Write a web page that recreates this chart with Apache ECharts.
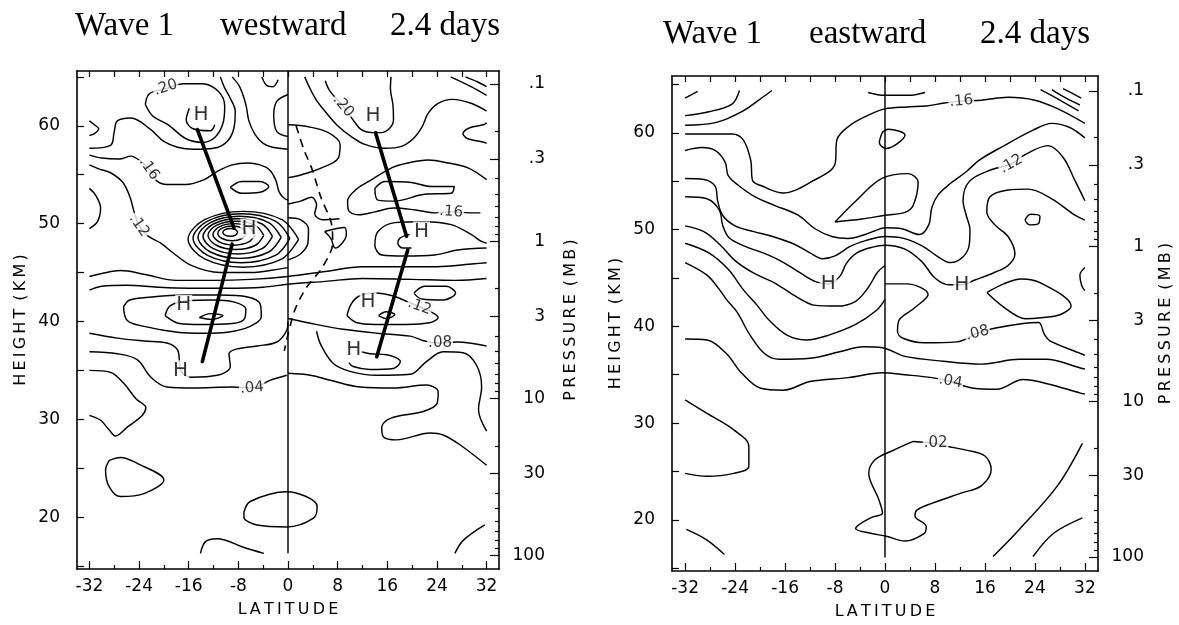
<!DOCTYPE html>
<html>
<head>
<meta charset="utf-8">
<script src="https://cdn.jsdelivr.net/npm/echarts@6.0.0/dist/echarts.min.js"></script>
<style>
html, body { margin: 0; background: #fff; }
#chart { width: 1179px; height: 625px; }
</style>
</head>
<body>
<div id="chart"></div>
<script>
// axis ticks / labels
var latLabelTicks = [-32, -24, -16, -8, 0, 8, 16, 24, 32];
var latMinorTicks = [-28, -20, -12, -4, 4, 12, 20, 28];
var latTopTicks = [-32, -28, -24, -20, -16, -12, -8, -4, 0, 4, 8, 12, 16, 20, 24, 28, 32];
var heightLabels = [20, 30, 40, 50, 60];
var heightTicks = [15, 20, 25, 30, 35, 40, 45, 50, 55, 60, 65];
var pressureValues = [0.1, 0.3, 1, 3, 10, 30, 100];
var pressureLabels = ['.1', '.3', '1', '3', '10', '30', '100'];
var pressureMinor = [0.2, 0.4, 0.5, 0.6, 0.7, 0.8, 0.9, 2, 4, 5, 6, 7, 8, 9, 20, 40, 50, 60, 70, 80, 90];

// ---------- westward panel: contour lines [latitude, height km] ----------
var westLoop20 = [[-23,62.2],[-22.3,63.3],[-19.7,63.8],[-16.8,64.3],[-13.8,64.3],[-11.2,63.5],[-10.2,62.0],[-10.5,60.2],[-11.8,58.8],[-13.8,58.3],[-16.5,58.7],[-19.3,60.1],[-21.8,61.0],[-23,62.2]];
var westArcH = [[-15.9,61.8],[-16.4,60.6],[-15.3,59.7],[-12.5,59.5],[-11.8,60.1]];
var westLine2 = [[-32,57.7],[-28.6,58.0],[-28,59.4],[-27.5,60.5],[-25.3,60.8],[-22.1,59.6],[-20,58.4],[-17.8,57.8],[-15.2,57.6],[-12,57.7],[-9.8,58.4],[-8.7,59.8],[-8.5,61.5],[-9.3,62.8],[-10.3,64.0],[-10.9,65.0]];
var westGt = [[-32,60.5],[-31.2,60.1],[-30.5,59.7],[-31.2,59.2],[-32,59.0]];
var west16 = [[-32,57.0],[-30,56.7],[-27.2,56.6],[-25.3,56.9],[-23.8,56.4],[-22.4,55.6],[-21.2,54.4],[-19.5,54.0],[-16.5,54.0],[-13.5,54.5],[-11.5,55.3],[-9,56.0],[-6.5,56.2],[-4.5,56.0],[-3.0,55.5],[-2.0,54.5],[-1.4,53.2],[-0.6,52.6],[0,52.4]];
var westTopRight = [[-9.0,65.0],[-7.8,64.0],[-6.8,62.2],[-6.3,60.5],[-5.3,59.1],[-4,58.2],[-2.5,57.8],[0,57.6]];
var westU = [[-4.2,65.0],[-3.4,64.1],[-2.4,64.0],[-1.6,64.7]];
var westParen0 = [[0,63.2],[-1.8,62.5],[-2.3,61.1],[-1.8,59.4],[0,58.9]];
var westSmallEll = [[-9.3,53.7],[-7.5,54.3],[-4.5,54.3],[-3.1,53.8],[-4.5,53.2],[-7.5,53.1],[-9.3,53.7]];
var westParenL = [[-32,53.6],[-31,52.9],[-30.2,51.6],[-30.7,50.2],[-32,49.5]];
var west12 = [[-32,56.0],[-30.5,55.6],[-28.6,55.2],[-26.6,54.2],[-25.4,52.6],[-24.8,51.2],[-24.0,49.8],[-22.7,48.8],[-20.5,48.0],[-18.5,47.0],[-15.5,45.7],[-11,45.0],[-6,45.0],[-1,45.4],[0,45.5]];
var westRing1 = [[-8.1,49.1],[-8.46,49.38],[-9.3,49.5],[-10.14,49.38],[-10.5,49.1],[-10.14,48.82],[-9.3,48.7],[-8.46,48.82],[-8.1,49.1]];
var westRing2 = [[-6.7,49.0],[-7.39,49.53],[-9.0,49.75],[-10.61,49.53],[-11.3,49.0],[-10.61,48.48],[-9.0,48.25],[-7.39,48.48],[-6.7,49.0]];
var westRing3 = [[-5.3,48.9],[-6.32,49.67],[-8.7,50.0],[-11.08,49.67],[-12.1,48.9],[-11.08,48.13],[-8.7,47.8],[-6.32,48.13],[-5.3,48.9]];
var westRing4 = [[-3.9,48.8],[-5.25,49.82],[-8.4,50.25],[-11.55,49.82],[-12.9,48.8],[-11.55,47.79],[-8.4,47.35],[-5.25,47.79],[-3.9,48.8]];
var westRing5 = [[-2.5,48.7],[-4.18,49.96],[-8.1,50.5],[-12.02,49.96],[-13.7,48.7],[-12.02,47.44],[-8.1,46.9],[-4.18,47.44],[-2.5,48.7]];
var westRing6 = [[-1.1,48.6],[-3.11,50.11],[-7.8,50.75],[-12.49,50.11],[-14.5,48.6],[-12.49,47.1],[-7.8,46.45],[-3.11,47.1],[-1.1,48.6]];
var westRing7 = [[0.3,48.5],[-2.04,50.25],[-7.5,51.0],[-12.96,50.25],[-15.3,48.5],[-12.96,46.75],[-7.5,46.0],[-2.04,46.75],[0.3,48.5]];
var westRing8 = [[1.7,48.4],[-0.97,50.4],[-7.2,51.25],[-13.43,50.4],[-16.1,48.4],[-13.43,46.4],[-7.2,45.55],[-0.97,46.4],[1.7,48.4]];
var westW1 = [[0,52.0],[2,52.3],[3.8,52.7],[4.6,51.9],[4.3,51.0],[5.5,50.4],[8.3,50.5]];
var westW2 = [[0,50.6],[2.0,50.4],[3.3,49.4],[3.2,48.0],[2,46.9],[0,46.3]];
var westTri = [[5.9,49.2],[9.1,49.6],[9.4,48.9],[7.6,47.5],[6.9,48.5],[5.9,49.2]];
var westBlobR = [[0,60.1],[3.3,59.9],[6.5,59.3],[8.4,58.1],[8.1,56.7],[5.4,55.7],[2.2,55.0],[0,54.7]];
var west20R = [[6.0,64.6],[6.7,63.6],[8.9,62.0],[10.6,60.5],[11.8,59.6],[13.5,59.3],[15,59.3],[16.3,59.7],[17,60.6],[16.9,62.2],[16.5,63.8],[16.6,65.0]];
var westT1 = [[2.7,65.0],[3.4,64.0],[4.6,62.6],[6.2,61.3],[8,60.0],[10.2,58.9],[12.4,58.1],[15.6,57.7],[18.3,57.9],[20.2,58.7],[21.6,59.9],[22.6,61.3],[24.2,62.3],[26.5,62.7],[29.5,62.3],[32,61.5]];
var westDiag1 = [[26.2,65.0],[29.5,64.0],[32,63.1]];
var westDiag2 = [[28.6,65.0],[30.5,64.5],[32,64.0]];
var westParenR = [[32,60.3],[31.5,60.1],[29.3,59.8],[28.2,59.2],[28.9,58.7],[31.7,58.3],[32,58.2]];
var west16R = [[32,54.5],[29,55.7],[25.8,56.2],[22.6,56.5],[19.3,56.2],[16.7,55.7],[13.5,54.5],[11,53.5],[9.6,52.3],[9.8,51.3],[11.5,50.9],[14,51.2],[17,51.6],[20.5,51.4],[23.8,51.1],[26.3,51.2],[29.4,51.1],[31,51.1]];
var westBlob2 = [[14,53.6],[15.6,54.3],[19.9,54.2],[23.1,53.8],[26.8,53.8],[26.3,53.1],[22,53],[17.2,52.3],[14.5,52.4],[14,53.6]];
var westRPH = [[32,48.0],[31.1,48.2],[29.5,48.9],[26.3,49.9],[22,50.2],[17.2,50.1],[14.5,49.2],[14,47.8],[15.1,46.8],[18.8,46.7],[23.6,46.8],[27.4,47.3],[32,47.5]];
var westArcH2 = [[19.6,48.9],[18,48.5],[17.7,48.0],[18.5,47.5],[19.9,47.5]];
var westH1 = [[-32,44.6],[-30,44.9],[-27,45.2],[-23,44.8],[-18,44.2],[-12,44.2],[-6,44.3],[0,44.6],[6,45.1],[12,45.6],[18,45.6],[24,45.6],[30,45.9],[32,46.0]];
var westH2 = [[-32,43.2],[-30,43.6],[-26,43.7],[-21,43.5],[-16,43.4],[-10,43.4],[-4,43.5],[0,43.8],[6,44.1],[12,44.4],[20,44.3],[27,44.2],[32,44.4]];
var westBlobR2 = [[20.3,42.9],[22,43.6],[25.5,43.6],[27,42.9],[25,42.2],[21.5,42.3],[20.3,42.9]];
var westL3 = [[-26.5,41.5],[-25.9,40.1],[-23.2,39.5],[-17.8,38.9],[-13.6,38.8],[-9.8,38.9],[-6.1,39.5],[-4.3,40.5],[-4.5,41.8],[-6.5,42.5],[-11,42.7],[-17,42.7],[-22,42.5],[-25.5,42.2],[-26.5,41.5]];
var westL2 = [[-19.8,40.6],[-19,41.6],[-16.5,42.1],[-12,42.2],[-8.8,42.0],[-6.8,41.3],[-7,40.3],[-9,39.8],[-14,39.7],[-17.5,39.8],[-19.8,40.6]];
var westLens = [[-14.3,40.4],[-12.5,40.8],[-10.5,40.6],[-12.3,40.2],[-14.3,40.4]];
var westLZ1 = [[-32,38.8],[-27.5,38.3],[-23.2,38.0],[-19.5,37.8],[-17.8,37.1],[-17.5,36],[-17.3,35.0],[-15.7,34.3],[-11.4,34.5],[-9.3,35.4],[-9.5,36.7],[-8.2,37.2],[-5,37.5],[-1.8,37.9],[-0.2,39.1],[0,40]];
var west04 = [[-32,36.9],[-27.5,36.7],[-24.3,36.1],[-22.1,34.3],[-19.5,33.3],[-15.2,33.2],[-9,33.3],[-5.8,33.2],[-2.8,34.0],[-0.2,34.5]];
var west04R = [[0,34.7],[3.6,34.5],[6.8,34.0],[11.6,33.3],[17,33.2],[22.3,33.5],[24.2,32.8],[24,31.6],[21.8,30.8],[16.5,30.1],[15.1,29.2],[15.4,28.2],[17.5,27.9],[22.9,28.6],[25,28.4],[27.7,27.4],[32,25.3]];
var westU04 = [[-32,35.0],[-28.6,34.8],[-26.5,33.7],[-24.5,32.1],[-22.9,31.2],[-23.5,30.4],[-25.9,29.2],[-27.8,28.3],[-28.8,28.9],[-30.2,29.9],[-32,30.4]];
var westLZ2 = [[4.6,39.0],[5.3,37.6],[7.3,35.7],[10,34.9],[14.3,34.5],[19.7,34.6],[22.3,35.9],[25,36.9],[28.2,36.8],[30.4,35.5],[31.2,33.3],[30.7,31.0],[32,28.8]];
var west08 = [[0,40.3],[4.5,39.7],[8.9,39.2],[14.3,38.8],[19.7,38.5],[22,38.0],[24.5,37.8],[27.2,37.9],[32,37.5]];
var westRH = [[11.8,36.9],[13.2,36.7],[15.9,36.6],[18.1,35.9],[17,35.2],[13.2,35.1],[10.5,35.4],[9.8,35.8]];
var westR12 = [[9.5,40.6],[10.2,41.8],[11.5,42.6],[14,42.9],[17,42.6],[19.3,42.0],[21.2,41.5],[23,41.0],[24.2,40.4],[23,39.9],[19,39.7],[14,39.7],[11,39.9],[9.5,40.6]];
var westLensR = [[14.6,40.6],[15.8,41.0],[17.2,40.7],[15.8,40.3],[14.6,40.6]];
var westLoopBL = [[-28.8,25.8],[-27.0,26.1],[-24.3,25.5],[-20.0,23.8],[-23.2,22.4],[-27.0,22.1],[-28.8,23.1],[-29.4,24.8],[-28.8,25.8]];
var westLoopBC = [[-7.1,20.5],[-6.1,21.6],[-0.2,22.6],[4.7,21.1],[4.1,19.9],[-0.2,19.0],[-5.0,19.2],[-7.1,20.0],[-7.1,20.5]];
var westArcB1 = [[-14.1,16.3],[-13.3,17.5],[-11.4,17.8],[-7.1,16.9],[-3.9,16.3]];
var westArcB2 = [[26.9,16.3],[28.2,17.6],[31.7,19.2]];
var westZero = [[0,65.6],[0,16.3]];
var westDash = [[1.3,60],[2.6,57.5],[3.8,55.7],[5.3,52.7],[7,50],[7.2,48],[5.5,45.5],[3,43.5],[1,41],[-0.6,37]];
var westThick = [
  [[-14.6,59.6],[-8.7,49.55]],
  [[-9.0,47.9],[-13.8,35.9]],
  [[14.1,59.3],[19.1,48.7]],
  [[19.3,47.3],[14.3,36.4]]
];
var westHighs = [[-14,61.1],[-6.3,49.5],[-16.8,41.7],[-17.3,35.0],[13.7,61.0],[21.5,49.2],[12.9,42.05],[10.6,37.1]];
var westLabelText = ['.20', '.16', '.12', '.20', '.16', '.12', '.08', '.04'];
var westLabelAt = [[-19.7,63.9],[-22.4,55.6],[-24.0,49.8],[8.9,62.0],[26.3,51.2],[21.2,41.5],[24.5,37.8],[-5.8,33.2]];

// ---------- eastward panel ----------
var eastR1 = [[-32,63.6],[-30,64.3]];
var eastR2 = [[-32,61.8],[-28.2,62.2],[-24.5,63.0],[-23.3,64.4]];
var eastR3 = [[-32,60.8],[-27,61.1],[-22.7,62.3],[-19.6,63.7],[-18.1,64.4]];
var eastTopArc = [[-2.7,64.2],[0,63.9],[3.7,63.9],[6.4,64.2]];
var east16 = [[-32,59.9],[-24.5,59.9],[-22.7,59.3],[-21.5,57.2],[-21.2,55.1],[-19.6,54.5],[-16.3,53.8],[-11.7,55.0],[-8.0,56.8],[-7.7,59.3],[-5.6,60.8],[-2.5,61.9],[0,62.5],[3.5,62.7],[6.6,62.8],[9.5,63.1],[12.2,63.3],[15.5,63.4],[19.7,63.7],[24.0,63.4],[27.7,62.5],[32,61.0]];
var eastDiag1 = [[24.9,64.5],[28,63.4],[31,62.3]];
var eastDiag2 = [[26.7,64.5],[29,63.6],[31.2,62.9]];
var eastDiag3 = [[28.5,64.6],[30,64.1],[31.4,63.6]];
var eastBlob0 = [[-0.4,60.1],[0.5,60.4],[3.2,59.8],[0.2,58.4],[-0.9,59.0],[-0.4,60.1]];
var eastBlobC = [[-8.0,50.8],[-4.8,52.9],[-0.5,55.3],[3.7,55.8],[5.3,54.9],[4.5,52.5],[3.2,51.8],[0,51.5],[-3.7,51.1],[-8.0,50.8]];
var eastSb = [[-32,58.2],[-29.3,58.5],[-27.2,58.2],[-25.6,57.0],[-25.1,55.6],[-23.5,54.6],[-20.8,53.4],[-17.6,52.5],[-13.9,51.5],[-11.2,50.1],[-8.5,49.3],[-5.9,49.1],[-3.7,49.4],[-1.6,49.9],[0,50.2],[2.7,50.1],[5.5,49.5],[7.0,50.5],[7.5,52.3],[8.5,53.6],[10.5,54.8],[13,56.0],[15.1,57.2],[18.8,58.6],[23.7,60.3],[26.7,61.0],[29.5,60.6],[32,59.5]];
var eastSc = [[-32,55.3],[-29,55.2],[-27.2,54.5],[-26.8,53],[-26,51.5],[-24,50.4],[-21,49.8],[-18,49.3],[-14.5,48.5],[-12,47.6],[-10,47.0],[-8,47.3],[-5.5,48.3],[-3,48.9],[0,49.3],[3,49.1],[6,48.3],[8.5,47.2],[10.5,46.6],[12.5,47.2],[13.5,48.5],[13.6,50],[13,51.5],[12.5,53],[13.5,55.0],[17,56.2],[20.2,56.8],[22.5,57.8],[26.1,58.7],[28.5,57.5],[30.4,55.1],[32,53.0]];
var eastSd = [[-32,53.4],[-28.5,53.2],[-26.5,52.0],[-26,50.5],[-25,49.2],[-22.5,48.3],[-19.5,47.6],[-16.5,46.7],[-13.5,45.5],[-11,44.6],[-9.1,44.4],[-7.2,45.2],[-6.2,46.5],[-4.5,47.6],[-2,48.2],[0,48.4],[3.2,48.0],[5.9,46.7],[8,45.0],[10.2,44.3],[12.3,44.3],[14.4,44.8],[17.6,45.6],[19.7,46.3],[20.8,47.5],[19.7,49.3],[17.6,50.5],[16.3,51.8],[16.8,53.4],[19.7,54.1],[22.9,54.2],[26.7,53.2],[30.4,51.5],[32,51.0]];
var eastInnerU = [[-32,50.4],[-29,49.8],[-26.5,48.5],[-24,46.8],[-21,45.5],[-18,44.6],[-15,43.4],[-13.2,42.7],[-11.4,42.2],[-7.7,42.1],[-4.7,42.6],[-2.7,44.0],[-1.2,45.6],[0,46.3]];
var eastSe = [[-32,48.6],[-28.2,47.6],[-25.1,45.9],[-22.7,43.8],[-20.5,42.2],[-18.5,40.6],[-15.7,39.1],[-12.6,38.6],[-9,39.1],[-4.7,40.2],[-1.3,41.7],[0,42.8]];
var eastTri08 = [[0,44.4],[3.5,44.4],[6.9,43.3],[4.5,41.8],[2.3,40.7],[2.0,39.5],[2.8,38.8],[6.3,38.3],[11.5,38.4],[14.8,39.3],[17.5,39.8],[22.1,40.3],[24.6,40.4],[25.5,39.2],[26.4,38.5],[31.3,37.2],[32,37.0]];
var eastDiamond = [[16.3,43.5],[19,44.4],[21.8,44.9],[24.9,44.5],[29.8,42.1],[28,41.2],[25,40.9],[22.5,40.8],[19,42],[16.3,43.5]];
var eastParenR = [[32,46.1],[31.2,45.3],[31.5,44.2],[32,43.7]];
var eastDot = [[22.4,51.0],[23.3,51.6],[24.8,51.4],[24.5,50.6],[23.2,50.5],[22.4,51.0]];
var eastSf = [[-32,46.6],[-28.5,45.3],[-26.5,43.8],[-25.4,42.8],[-23.6,41.4],[-21.8,39.3],[-19.3,37.2],[-16.9,36.6],[-12,36.7],[-7.1,37.4],[-3.5,37.9],[-0.4,37.8],[3.2,36.9],[9.3,36.4],[15.4,36.1],[21.5,36.6],[25.8,36.6],[31.3,35.7],[32,35.6]];
var east04 = [[-32,38.7],[-28.5,38.6],[-25.4,37.2],[-23,35.2],[-19.9,33.6],[-16.3,33.4],[-12,34.3],[-5.9,34.7],[-0.4,35.2],[3.2,35.0],[7.5,34.7],[10.5,34.3],[14.2,33.6],[17.9,33.5],[22.1,34.5],[25.8,34.1],[31.3,33.1],[32,33.0]];
var eastLeftBlob = [[-32,32.4],[-28.5,31.0],[-24.2,29.3],[-21.8,27.6],[-21.8,25.5],[-24.2,24.8],[-28.5,24.5],[-32,24.8]];
var east02 = [[4.5,28.1],[1.4,27.2],[-1.6,26.2],[-2.6,24.8],[-1.0,22.1],[-0.4,20.7],[-2.3,20.2],[-4.7,19.1],[-2.3,18.6],[0.2,18.3],[3.2,17.8],[6.3,18.6],[6.6,19.3],[4.8,20.4],[5.1,21.0],[7.5,21.7],[12.4,22.8],[15.4,23.5],[17.0,25.2],[16.0,26.6],[13.0,27.2],[9.9,27.6],[8.1,27.9],[4.5,28.1]];
var eastBL = [[-31.8,19.0],[-28.5,17.9],[-25.7,16.4]];
var eastBR1 = [[17.3,16.2],[21.5,19.0],[27.6,23.5],[31.6,27.9]];
var eastBR2 = [[23.7,16.2],[27.0,18.6],[31.6,20.2]];
var eastZero = [[0,65.9],[0,16.1]];
var eastHighs = [[-9.1,44.4],[12.3,44.3]];
var eastLabelText = ['.16', '.12', '.08', '.04', '.02'];
var eastLabelAt = [[12.2,63.3],[20.2,56.8],[14.8,39.3],[10.5,34.3],[8.1,27.9]];

var westContours = [westLoop20, westArcH, westLine2, westGt, west16, westTopRight, westU, westParen0,
  westSmallEll, westParenL, west12, westRing1, westRing2, westRing3, westRing4, westRing5, westRing6,
  westRing7, westRing8, westW1, westW2, westTri, westBlobR, west20R, westT1, westDiag1, westDiag2,
  westParenR, west16R, westBlob2, westRPH, westArcH2, westH1, westH2, westBlobR2, westL3, westL2,
  westLens, westLZ1, west04, west04R, westU04, westLZ2, west08, westRH, westR12, westLensR,
  westLoopBL, westLoopBC, westArcB1, westArcB2, westZero];
var eastContours = [eastR1, eastR2, eastR3, eastTopArc, east16, eastDiag1, eastDiag2, eastDiag3,
  eastBlob0, eastBlobC, eastSb, eastSc, eastSd, eastInnerU, eastSe, eastTri08, eastDiamond,
  eastParenR, eastDot, eastSf, east04, eastLeftBlob, east02, eastBL, eastBR1, eastBR2, eastZero];

// label rotations (style)
var westLabelRot = [18, -55, -55, -50, -4, -20, 0, 5];
var eastLabelRot = [5, 30, 15, -10, 0];

var FONT = 'DejaVu Sans';
var chart = echarts.init(document.getElementById('chart'), null, { renderer: 'canvas' });

function spaced(s) {
  return s.split('').join('\u2009');
}

function axesFor(g, latMin, latMax, hMin, hMax, pTop, pBottom, presGap) {
  var line = { color: '#000', width: 1.6 };
  var tick = { color: '#000', width: 1.2 };
  var xs = [
    {
      gridIndex: g, type: 'value', min: latMin, max: latMax, position: 'bottom',
      axisLine: { onZero: false, lineStyle: line },
      axisTick: { inside: true, length: 8, customValues: latLabelTicks, lineStyle: tick },
      axisLabel: { customValues: latLabelTicks, color: '#000', fontSize: 17, fontFamily: FONT, margin: 9 },
      splitLine: { show: false },
      name: spaced('LATITUDE'), nameLocation: 'middle', nameGap: 33,
      nameTextStyle: { color: '#000', fontSize: 16, fontFamily: FONT }
    },
    {
      gridIndex: g, type: 'value', min: latMin, max: latMax, position: 'bottom',
      axisLine: { show: false, onZero: false },
      axisTick: { inside: true, length: 4, customValues: latMinorTicks, lineStyle: tick },
      axisLabel: { show: false }, splitLine: { show: false }
    },
    {
      gridIndex: g, type: 'value', min: latMin, max: latMax, position: 'top',
      axisLine: { onZero: false, lineStyle: line },
      axisTick: { inside: true, length: 6, customValues: latTopTicks, lineStyle: tick },
      axisLabel: { show: false }, splitLine: { show: false }
    }
  ];
  var pMajor = pressureValues.map(function (p) { return Math.log10(p); });
  var ys = [
    {
      gridIndex: g, type: 'value', min: hMin, max: hMax, position: 'left',
      axisLine: { show: true, onZero: false, lineStyle: line },
      axisTick: { inside: true, length: 7, customValues: heightTicks, lineStyle: tick },
      axisLabel: { customValues: heightLabels, color: '#000', fontSize: 17, fontFamily: FONT, margin: 17 },
      splitLine: { show: false },
      name: spaced('HEIGHT') + '\u2002' + spaced('(KM)'), nameLocation: 'middle', nameRotate: 90, nameGap: 48,
      nameTextStyle: { color: '#000', fontSize: 16, fontFamily: FONT }
    },
    {
      gridIndex: g, type: 'value', min: pTop, max: pBottom, inverse: true, position: 'right',
      axisLine: { show: true, onZero: false, lineStyle: line },
      axisTick: { inside: true, length: 9, customValues: pMajor, lineStyle: tick },
      axisLabel: {
        customValues: pMajor, color: '#000', fontSize: 17, fontFamily: FONT, margin: 46, align: 'right',
        formatter: function (v) {
          for (var i = 0; i < pMajor.length; i++) {
            if (Math.abs(pMajor[i] - v) < 1e-6) return pressureLabels[i];
          }
          return '';
        }
      },
      splitLine: { show: false },
      name: spaced('PRESSURE') + '\u2002' + spaced('(MB)'), nameLocation: 'middle', nameRotate: 90, nameGap: presGap,
      nameTextStyle: { color: '#000', fontSize: 16, fontFamily: FONT }
    },
    {
      gridIndex: g, type: 'value', min: pTop, max: pBottom, inverse: true, position: 'right',
      axisLine: { show: false, onZero: false },
      axisTick: { inside: true, length: 4, customValues: pressureMinor.map(function (p) { return Math.log10(p); }), lineStyle: tick },
      axisLabel: { show: false }, splitLine: { show: false }
    }
  ];
  return { xs: xs, ys: ys };
}

var west = axesFor(0, -34, 34, 14.7, 65.6, -1.083, 2.085, 64);
var east = axesFor(1, -34.1, 34.1, 14.7, 65.9, -1.095, 2.091, 60);

function contourSeries(lines, xi, yi) {
  return lines.map(function (d) {
    return {
      type: 'line', xAxisIndex: xi, yAxisIndex: yi, data: d, smooth: 0.35,
      symbol: 'none', silent: true, z: 2,
      lineStyle: { color: '#000', width: 1.45 }
    };
  });
}

function thickSeries(lines, xi, yi) {
  return lines.map(function (d) {
    return {
      type: 'line', xAxisIndex: xi, yAxisIndex: yi, data: d, symbol: 'none', silent: true, z: 3,
      lineStyle: { color: '#000', width: 3.6, cap: 'round' }
    };
  });
}

function textSeries(points, texts, rots, xi, yi, size) {
  return {
    type: 'scatter', xAxisIndex: xi, yAxisIndex: yi, symbolSize: 0, silent: true, z: 6,
    data: points.map(function (p, i) {
      return {
        value: p,
        label: { formatter: texts[i], rotate: rots ? rots[i] : 0 }
      };
    }),
    label: {
      show: true, position: 'inside', color: '#000', fontSize: size, fontFamily: FONT,
      backgroundColor: '#fff', padding: [0, 1]
    }
  };
}

var series = []
  .concat(contourSeries(westContours, 0, 0))
  .concat(contourSeries(eastContours, 3, 3))
  .concat(thickSeries(westThick, 0, 0))
  .concat([{
    type: 'line', xAxisIndex: 0, yAxisIndex: 0, data: westDash, smooth: 0.3, symbol: 'none', silent: true, z: 3,
    lineStyle: { color: '#000', width: 1.6, type: [8, 6] }
  }])
  .concat([
    textSeries(westLabelAt, westLabelText, westLabelRot, 0, 0, 15),
    textSeries(eastLabelAt, eastLabelText, eastLabelRot, 3, 3, 15),
    textSeries(westHighs, westHighs.map(function () { return 'H'; }), null, 0, 0, 20),
    textSeries(eastHighs, eastHighs.map(function () { return 'H'; }), null, 3, 3, 20)
  ]);

function titleText(x, y, s) {
  return { type: 'text', left: x, top: y, silent: true,
    style: { text: s, font: '33px "Liberation Serif"', fill: '#000' } };
}

chart.setOption({
  animation: false,
  backgroundColor: '#fff',
  grid: [
    { left: 77, top: 71, width: 422, height: 498 },
    { left: 672, top: 76, width: 426, height: 495 }
  ],
  xAxis: west.xs.concat(east.xs),
  yAxis: west.ys.concat(east.ys),
  graphic: [
    titleText(75, 10, 'Wave 1'),
    titleText(220, 10, 'westward'),
    titleText(390, 10, '2.4 days'),
    titleText(663, 18, 'Wave 1'),
    titleText(809, 18, 'eastward'),
    titleText(980, 18, '2.4 days')
  ],
  series: series
});
</script>
</body>
</html>
